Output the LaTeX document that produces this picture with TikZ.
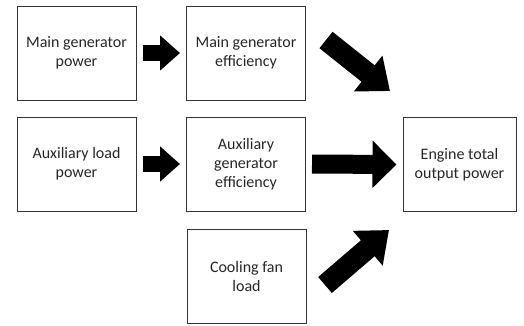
\documentclass[tikz,border=0pt]{standalone}
\usepackage{fontspec}
\setmainfont{Carlito}
\usetikzlibrary{arrows.meta}

\begin{document}
\begin{tikzpicture}[
  x=1pt, y=-1pt,
  font=\fontsize{16}{19}\selectfont,
  blockbox/.style={draw=black!80, line width=1pt, align=center, minimum width=119pt, minimum height=94pt, inner sep=2pt, text=black!85},
  smallarrow/.style={line width=16pt, -{Triangle[length=20pt, width=34pt]}, shorten <=6pt, shorten >=6pt},
  widearrow/.style={line width=19pt, -{Triangle[length=24pt, width=46pt]}, shorten <=6pt, shorten >=6pt},
  slantarrow/.style={line width=21pt, -{Triangle[length=28pt, width=44pt]}}
]
\useasboundingbox (0,0) rectangle (524,325);

\node[blockbox] (mgp) at (76.5,53) {Main generator\\power};
\node[blockbox] (mge) at (246,53) {Main generator\\efficiency};
\node[blockbox] (alp) at (76.5,164) {Auxiliary load\\power};
\node[blockbox] (age) at (246,164) {Auxiliary\\generator\\efficiency};
\node[blockbox, minimum width=113pt] (etp) at (459.5,164.5) {Engine total\\output power};
\node[blockbox] (cfl) at (246.5,276) {Cooling fan\\load};

% slanted arrow ends
\coordinate (upstart) at (326,40);
\coordinate (upend) at (390,91);
\coordinate (lowstart) at (325,285);
\coordinate (lowend) at (389,230);

\draw[smallarrow] (mgp.east) -- (mge.west);
\draw[smallarrow] (alp.east) -- (age.west);
\draw[widearrow] (age.east) -- (etp.west);
\draw[slantarrow] (upstart) -- (upend);
\draw[slantarrow] (lowstart) -- (lowend);

\end{tikzpicture}
\end{document}
